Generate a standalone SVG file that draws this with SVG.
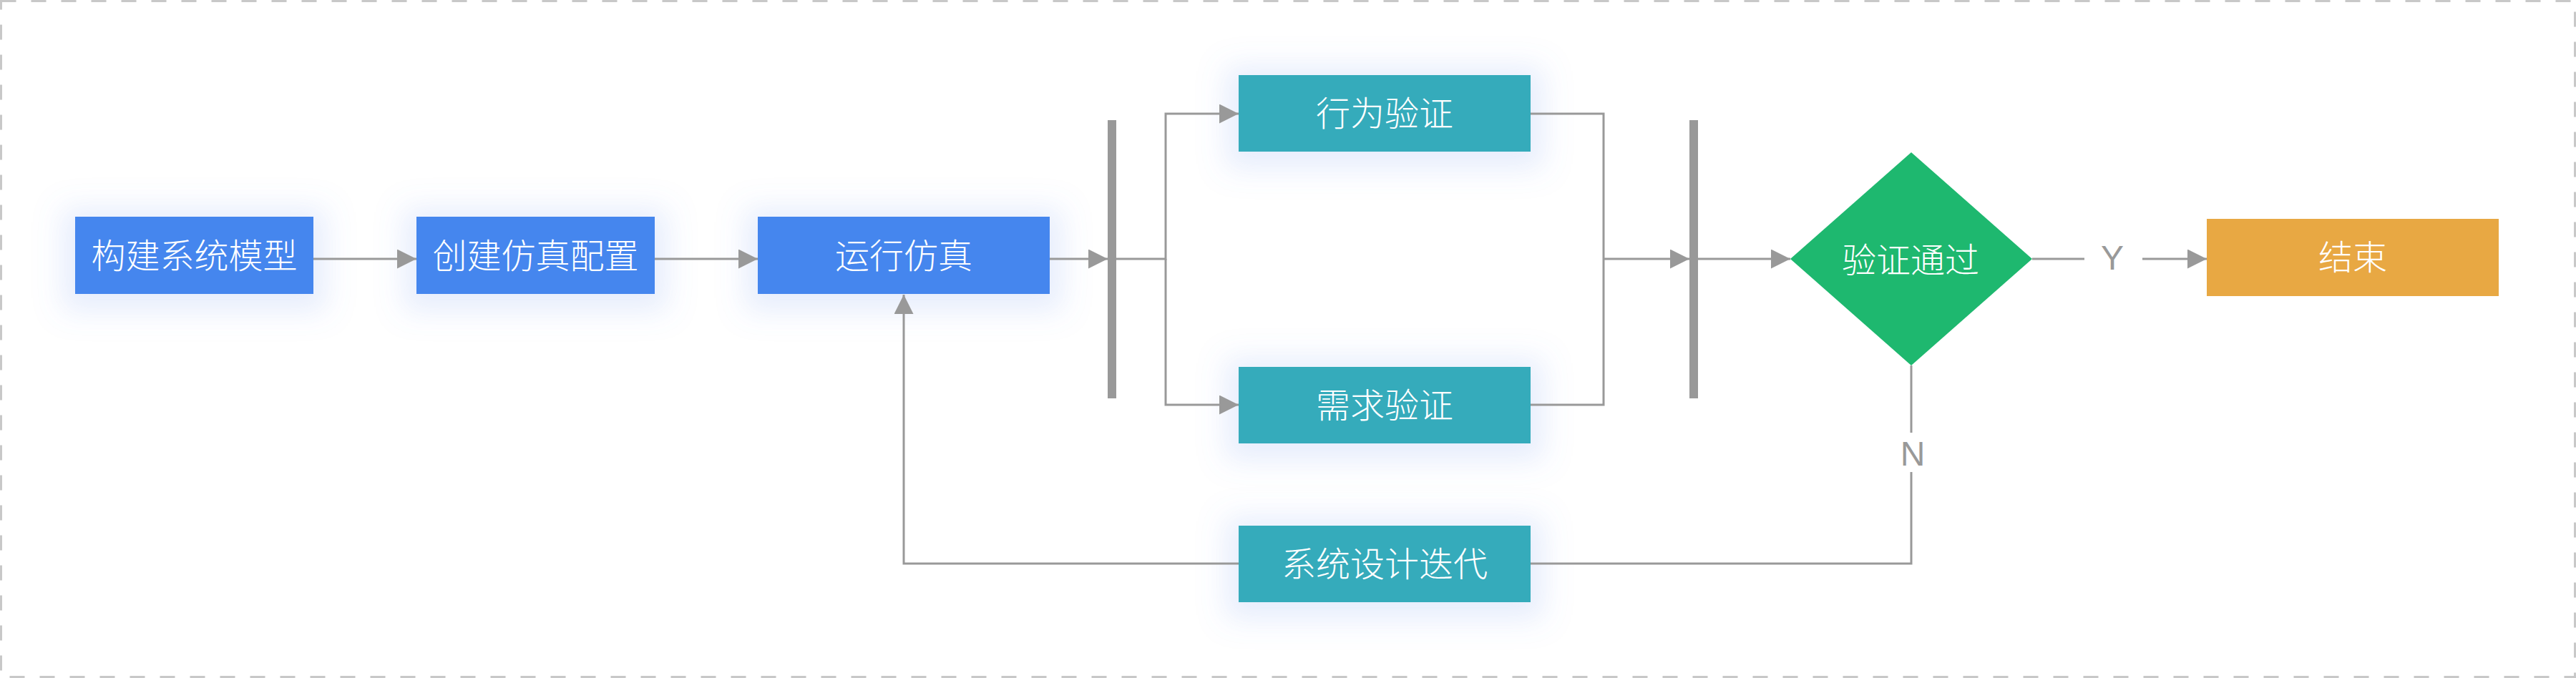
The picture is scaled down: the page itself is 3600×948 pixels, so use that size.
<svg xmlns="http://www.w3.org/2000/svg" width="3600" height="948" viewBox="0 0 3600 948">
<style>
.lbl{font-family:"Noto Sans CJK SC","Noto Sans",sans-serif;font-size:48px;font-weight:300;fill:#ffffff;text-anchor:middle}
.yn{font-family:"Liberation Sans","Noto Sans",sans-serif;font-size:48px;fill:#999999;text-anchor:middle}
.blue{fill:#4486ee}
.teal{fill:#35abbb}
.bar{fill:#999999}
.conn{fill:none;stroke:#999999;stroke-width:3}
</style>
<defs>
<filter id="glow" x="-50%" y="-150%" width="200%" height="400%">
<feMorphology in="SourceAlpha" operator="dilate" radius="18" result="d"/>
<feGaussianBlur in="d" stdDeviation="20" result="b"/>
<feOffset in="b" dy="6" result="o"/>
<feFlood flood-color="#6f95ee" flood-opacity="0.17"/>
<feComposite in2="o" operator="in" result="s"/>
<feMerge><feMergeNode in="s"/><feMergeNode in="SourceGraphic"/></feMerge>
</filter>
<marker id="arr" markerUnits="userSpaceOnUse" markerWidth="27" markerHeight="27" refX="27" refY="13.5" orient="auto">
<path d="M0,0 L27,13.5 L0,27 z" fill="#999999"/>
</marker>
</defs>
<rect x="1.5" y="1.5" width="3597" height="945" fill="#ffffff" stroke="#c8c8c8" stroke-width="3" stroke-dasharray="21 21"/>
<g id="n1"><rect class="blue" x="105" y="303" width="333" height="108" filter="url(#glow)"/><text class="lbl" x="271.5" y="375">构建系统模型</text></g>
<g id="n2"><rect class="blue" x="582" y="303" width="333" height="108" filter="url(#glow)"/><text class="lbl" x="748.5" y="375">创建仿真配置</text></g>
<g id="n3"><rect class="blue" x="1059" y="303" width="408" height="108" filter="url(#glow)"/><text class="lbl" x="1263" y="375">运行仿真</text></g>
<g id="fork"><rect class="bar" x="1548" y="168" width="12" height="389"/></g>
<g id="n4"><rect class="teal" x="1731" y="105" width="408" height="107" filter="url(#glow)"/><text class="lbl" x="1935" y="176">行为验证</text></g>
<g id="n5"><rect class="teal" x="1731" y="513" width="408" height="107" filter="url(#glow)"/><text class="lbl" x="1935" y="584">需求验证</text></g>
<g id="n6"><rect class="teal" x="1731" y="735" width="408" height="107" filter="url(#glow)"/><text class="lbl" x="1935" y="806">系统设计迭代</text></g>
<g id="join"><rect class="bar" x="2361" y="168" width="12" height="389"/></g>
<g id="n7"><polygon points="2502,362 2671,213 2840,362 2671,511" fill="#1eb86f"/><text class="lbl" x="2670" y="381">验证通过</text></g>
<g id="n8"><rect x="3084" y="306" width="408" height="108" fill="#e8a843"/><text class="lbl" x="3288" y="377">结束</text></g>
<g id="connectors">
<path class="conn" d="M438,362 H582" marker-end="url(#arr)"/>
<path class="conn" d="M915,362 H1059" marker-end="url(#arr)"/>
<path class="conn" d="M1467,362 H1548" marker-end="url(#arr)"/>
<path class="conn" d="M1560,362 H1629 V159 H1731" marker-end="url(#arr)"/>
<path class="conn" d="M1629,362 V566 H1731" marker-end="url(#arr)"/>
<path class="conn" d="M2139,159 H2241 V566 H2139"/>
<path class="conn" d="M2241,362 H2361" marker-end="url(#arr)"/>
<path class="conn" d="M2373,362 H2502" marker-end="url(#arr)"/>
<path class="conn" d="M2840,362 H2913"/>
<text class="yn" x="2952" y="377">Y</text>
<path class="conn" d="M2994,362 H3084" marker-end="url(#arr)"/>
<path class="conn" d="M2671,511 V605"/>
<text class="yn" x="2673" y="651">N</text>
<path class="conn" d="M2671,660 V788 H2139"/>
<path class="conn" d="M1731,788 H1263 V412" marker-end="url(#arr)"/>
</g>
</svg>
